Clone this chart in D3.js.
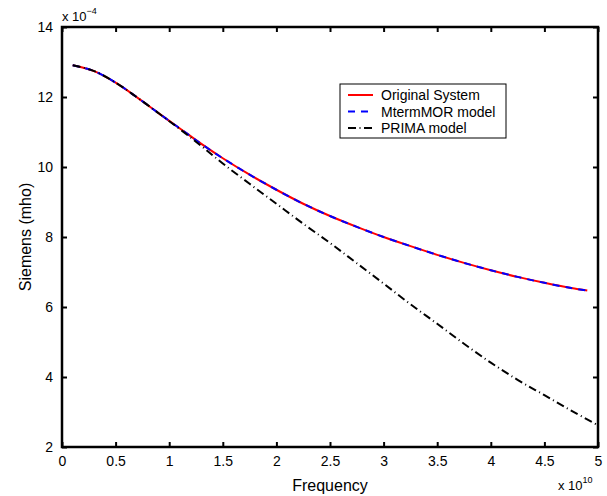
<!DOCTYPE html>
<html>
<head>
<meta charset="utf-8">
<script src="https://cdn.jsdelivr.net/npm/d3@7"></script>
<style>
  body { margin: 0; background: #fff; }
  svg { font-family: "Liberation Sans", Arial, sans-serif; }
</style>
</head>
<body>
<div class="chart"></div>
<script>
// frequency in units of 1e10 Hz, conductance in units of 1e-4 S
const freqOrig = [0.1, 0.3, 0.5, 0.7, 0.9, 1.1, 1.3, 1.5, 1.75, 2.0, 2.25, 2.5, 2.75, 3.0, 3.25, 3.5, 3.75, 4.0, 4.25, 4.5, 4.75, 4.9];
const original = [12.91, 12.74, 12.41, 11.99, 11.54, 11.1, 10.66, 10.25, 9.78, 9.35, 8.95, 8.6, 8.29, 8.0, 7.74, 7.49, 7.26, 7.05, 6.86, 6.69, 6.54, 6.47];
const mterm = [12.91, 12.74, 12.41, 11.99, 11.54, 11.1, 10.66, 10.25, 9.78, 9.35, 8.95, 8.6, 8.29, 8.0, 7.74, 7.49, 7.26, 7.05, 6.86, 6.69, 6.54, 6.47];
const freqPrima = [0.1, 0.3, 0.5, 0.7, 0.9, 1.1, 1.3, 1.5, 1.75, 2.0, 2.25, 2.5, 2.75, 3.0, 3.25, 3.5, 3.75, 4.0, 4.25, 4.5, 4.75, 5.0];
const prima = [12.91, 12.74, 12.41, 11.99, 11.54, 11.08, 10.6, 10.1, 9.52, 8.95, 8.38, 7.83, 7.25, 6.67, 6.08, 5.52, 4.95, 4.41, 3.92, 3.48, 3.04, 2.62];

const xTicks = [0, 0.5, 1, 1.5, 2, 2.5, 3, 3.5, 4, 4.5, 5];
const yTicks = [2, 4, 6, 8, 10, 12, 14];
const legendNames = ["Original System", "MtermMOR model", "PRIMA model"];

const width = 607;
const height = 496;
const mLeft = 62, mRight = 598, mTop = 27, mBottom = 447;

const x = d3.scaleLinear().domain([0, 5]).range([mLeft, mRight]);
const y = d3.scaleLinear().domain([2, 14]).range([mBottom, mTop]);

const svg = d3.select(".chart").append("svg")
  .attr("width", width)
  .attr("height", height);

// series
const line = d3.line()
  .x((d) => x(d[0]))
  .y((d) => y(d[1]))
  .curve(d3.curveCatmullRom);

const series = [
  { pts: d3.zip(freqOrig, original), color: "#ff0000", dash: null },
  { pts: d3.zip(freqOrig, mterm), color: "#0000ff", dash: "7,6" },
  { pts: d3.zip(freqPrima, prima), color: "#000000", dash: "8,3.5,1,3.5" }
];

svg.append("g")
  .selectAll("path")
  .data(series).enter()
  .append("path")
    .attr("d", (d) => line(d.pts))
    .attr("fill", "none")
    .attr("stroke", (d) => d.color)
    .attr("stroke-width", 2)
    .attr("stroke-dasharray", (d) => d.dash);

// axes (box with inward ticks)
const axBottom = d3.axisBottom(x).tickValues(xTicks).tickSize(-5).tickPadding(9).tickFormat(d3.format("~g"));
const axLeft = d3.axisLeft(y).tickValues(yTicks).tickSize(-5).tickPadding(9);
const axTop = d3.axisTop(x).tickValues(xTicks).tickSize(-5).tickFormat("");
const axRight = d3.axisRight(y).tickValues(yTicks).tickSize(-5).tickFormat("");

function styleAxis(g) {
  g.select(".domain").remove();
  g.selectAll(".tick line").attr("stroke", "#000").attr("stroke-width", 2);
  g.selectAll(".tick text").attr("fill", "#000").style("font-size", "14px");
}

svg.append("g").attr("transform", `translate(0,${mBottom})`).call(axBottom).call(styleAxis);
svg.append("g").attr("transform", `translate(${mLeft},0)`).call(axLeft).call(styleAxis);
svg.append("g").attr("transform", `translate(0,${mTop})`).call(axTop).call(styleAxis);
svg.append("g").attr("transform", `translate(${mRight},0)`).call(axRight).call(styleAxis);

svg.append("rect")
  .attr("x", mLeft).attr("y", mTop)
  .attr("width", mRight - mLeft).attr("height", mBottom - mTop)
  .attr("fill", "none").attr("stroke", "#000").attr("stroke-width", 2.5);

// labels
svg.append("text")
  .attr("x", 330).attr("y", 491)
  .attr("text-anchor", "middle").style("font-size", "16px")
  .text("Frequency");

svg.append("text")
  .attr("transform", `translate(31,${(mTop + mBottom) / 2}) rotate(-90)`)
  .attr("text-anchor", "middle").style("font-size", "16px")
  .text("Siemens (mho)");

const xExp = svg.append("text").attr("x", 558).attr("y", 490).style("font-size", "13px");
xExp.append("tspan").text("x 10");
xExp.append("tspan").attr("dy", -7).style("font-size", "9px").text("10");

const yExp = svg.append("text").attr("x", 62).attr("y", 21).style("font-size", "13px");
yExp.append("tspan").text("x 10");
yExp.append("tspan").attr("dy", -7).style("font-size", "9px").text("\u22124");

// legend
const legend = svg.append("g").attr("class", "legend");
legend.append("rect")
  .attr("x", 340).attr("y", 84).attr("width", 166).attr("height", 54)
  .attr("fill", "#fff").attr("stroke", "#000").attr("stroke-width", 1);

const scaleRow = d3.scalePoint().domain(legendNames).range([95, 128]);
const rows = legend.selectAll(".row")
  .data(legendNames).enter()
  .append("g")
    .attr("transform", (d) => `translate(348,${scaleRow(d)})`);

rows.append("line")
  .attr("x1", 0).attr("x2", 25)
  .attr("stroke", (d, i) => series[i].color)
  .attr("stroke-width", 2)
  .attr("stroke-dasharray", (d, i) => series[i].dash);

rows.append("text")
  .attr("x", 33).attr("dy", 5)
  .style("font-size", "14px")
  .text((d) => d);
</script>
</body>
</html>
